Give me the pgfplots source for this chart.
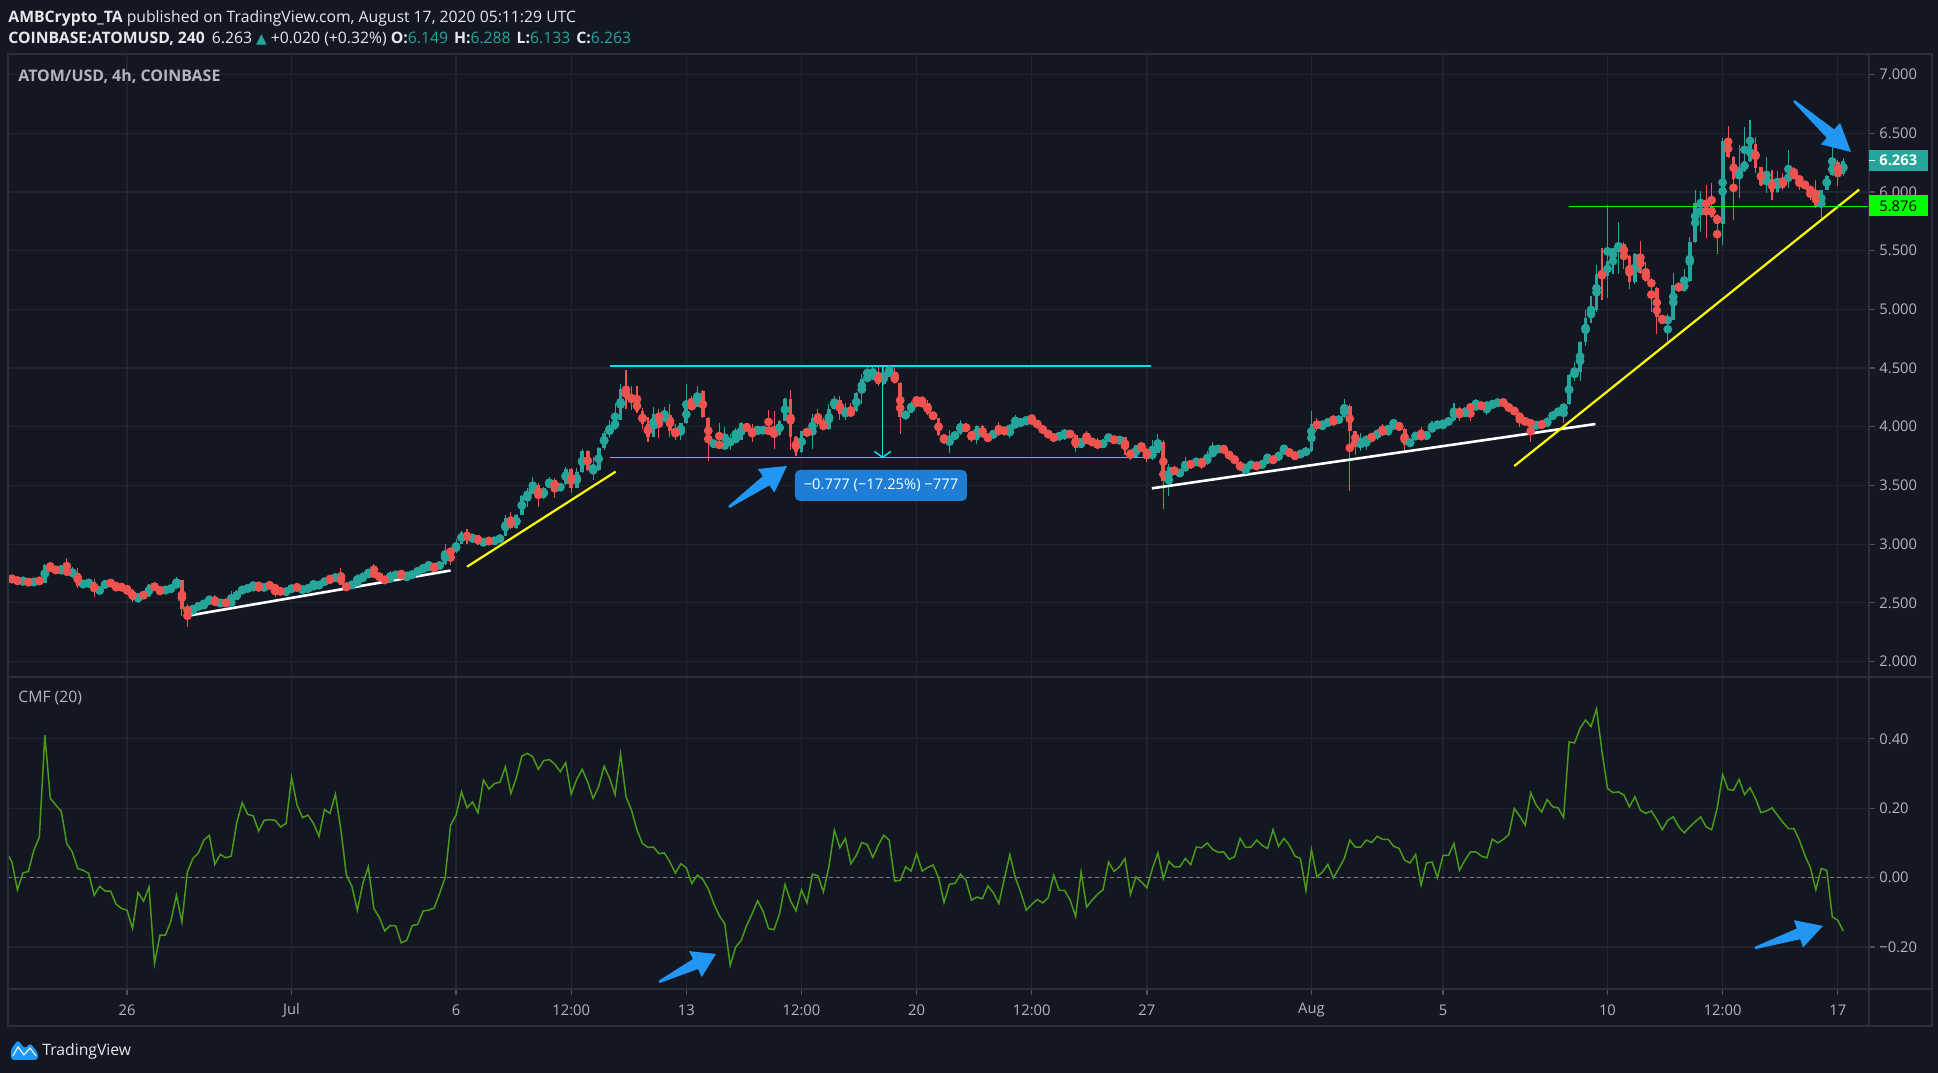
\documentclass[border=0pt]{standalone}
\usepackage{pgfplots}
\pgfplotsset{compat=1.18}
\usepackage{pgfplotstable}
\usepackage{fontspec}
\setmainfont{Open Sans}
\newfontfamily\dejavu{DejaVu Sans}
\usetikzlibrary{calc}

\definecolor{bg}{HTML}{131722}
\definecolor{gridc}{HTML}{20242F}
\definecolor{border}{HTML}{2A2E39}
\definecolor{tickc}{HTML}{4A4F5C}
\definecolor{lab}{HTML}{B2B5BE}
\definecolor{hdr}{HTML}{E6E8EE}
\definecolor{tvup}{HTML}{26A69A}
\definecolor{tvdown}{HTML}{EF5350}
\definecolor{cmfc}{HTML}{4A9A1A}
\definecolor{cyanl}{HTML}{00E5E5}
\definecolor{yel}{HTML}{FFFF00}
\definecolor{limec}{HTML}{00FF00}
\definecolor{arrowb}{HTML}{2196F3}
\definecolor{boxb}{HTML}{1E7ED6}
\definecolor{zeroc}{HTML}{787B86}

\newcommand\hfont{\fontsize{7.9}{9}\selectfont}
\newcommand\tfont{\fontsize{7.4}{9}\selectfont}

\pgfplotstableread{
k o h l c
-1 2.647 2.715 2.640 2.712
0 2.712 2.725 2.685 2.690
1 2.700 2.710 2.670 2.675
2 2.685 2.700 2.665 2.690
3 2.700 2.710 2.640 2.655
4 2.655 2.705 2.650 2.700
5 2.700 2.705 2.665 2.675
6 2.670 2.830 2.665 2.825
7 2.810 2.840 2.780 2.785
8 2.790 2.800 2.760 2.770
9 2.770 2.805 2.765 2.785
10 2.775 2.880 2.745 2.755
11 2.755 2.805 2.710 2.757
12 2.755 2.800 2.630 2.647
13 2.647 2.680 2.640 2.672
14 2.665 2.685 2.645 2.675
15 2.680 2.700 2.550 2.590
16 2.590 2.630 2.580 2.625
17 2.625 2.695 2.620 2.690
18 2.690 2.695 2.640 2.647
19 2.650 2.660 2.605 2.635
20 2.647 2.655 2.610 2.620
21 2.620 2.647 2.585 2.590
22 2.605 2.620 2.510 2.520
23 2.520 2.580 2.500 2.576
24 2.576 2.600 2.530 2.554
25 2.554 2.660 2.550 2.655
26 2.655 2.660 2.615 2.620
27 2.620 2.625 2.575 2.596
28 2.600 2.625 2.590 2.620
29 2.610 2.640 2.600 2.633
30 2.630 2.720 2.625 2.684
31 2.690 2.695 2.390 2.446
32 2.446 2.486 2.294 2.430
33 2.430 2.470 2.400 2.463
34 2.460 2.490 2.450 2.477
35 2.477 2.510 2.450 2.505
36 2.505 2.555 2.480 2.547
37 2.547 2.570 2.470 2.477
38 2.480 2.525 2.470 2.520
39 2.520 2.525 2.470 2.480
40 2.480 2.600 2.475 2.525
41 2.525 2.605 2.520 2.600
42 2.600 2.625 2.590 2.620
43 2.605 2.645 2.600 2.640
44 2.620 2.680 2.615 2.647
45 2.647 2.680 2.610 2.615
46 2.615 2.655 2.610 2.647
47 2.655 2.665 2.635 2.640
48 2.645 2.650 2.550 2.605
49 2.605 2.610 2.585 2.590
50 2.593 2.605 2.585 2.597
51 2.590 2.660 2.580 2.652
52 2.655 2.665 2.600 2.605
53 2.605 2.625 2.600 2.620
54 2.605 2.645 2.600 2.640
55 2.635 2.685 2.630 2.647
56 2.635 2.672 2.630 2.667
57 2.660 2.705 2.655 2.700
58 2.700 2.735 2.670 2.693
59 2.690 2.745 2.685 2.740
60 2.740 2.800 2.650 2.652
61 2.652 2.660 2.610 2.627
62 2.638 2.675 2.630 2.667
63 2.660 2.745 2.655 2.690
64 2.680 2.760 2.675 2.755
65 2.752 2.780 2.710 2.757
66 2.755 2.830 2.735 2.740
67 2.745 2.750 2.695 2.700
68 2.705 2.710 2.680 2.685
69 2.685 2.770 2.680 2.730
70 2.730 2.750 2.725 2.745
71 2.745 2.770 2.720 2.725
72 2.710 2.755 2.705 2.730
73 2.720 2.765 2.715 2.760
74 2.752 2.790 2.745 2.785
75 2.785 2.810 2.780 2.795
76 2.785 2.860 2.780 2.825
77 2.810 2.830 2.765 2.800
78 2.800 2.840 2.795 2.835
79 2.830 3.000 2.825 2.940
80 2.940 2.950 2.820 2.930
81 2.935 3.040 2.920 3.005
82 3.005 3.110 3.000 3.105
83 3.100 3.130 3.000 3.040
84 3.040 3.075 3.020 3.065
85 3.075 3.080 2.990 3.000
86 3.000 3.045 2.990 3.030
87 3.030 3.050 3.005 3.020
88 3.020 3.045 3.010 3.035
89 3.025 3.080 3.010 3.070
90 3.070 3.250 3.065 3.220
91 3.220 3.270 3.130 3.140
92 3.140 3.255 3.130 3.250
93 3.250 3.415 3.245 3.410
94 3.410 3.477 3.320 3.430
95 3.430 3.570 3.425 3.505
96 3.505 3.520 3.320 3.390
97 3.390 3.485 3.385 3.480
98 3.480 3.570 3.475 3.550
99 3.550 3.560 3.390 3.460
100 3.460 3.515 3.455 3.510
101 3.510 3.660 3.505 3.640
102 3.640 3.645 3.434 3.480
103 3.480 3.650 3.475 3.610
104 3.610 3.810 3.605 3.790
105 3.790 3.800 3.620 3.630
106 3.625 3.740 3.550 3.632
107 3.630 3.830 3.625 3.820
108 3.820 3.960 3.800 3.950
109 3.950 4.055 3.905 3.980
110 3.980 4.200 3.970 4.060
111 4.060 4.360 4.055 4.320
112 4.310 4.480 4.150 4.250
113 4.250 4.350 4.140 4.225
114 4.225 4.350 4.120 4.130
115 4.130 4.160 3.980 4.020
116 4.020 4.080 3.870 3.915
117 3.915 4.170 3.910 4.105
118 4.120 4.150 3.900 4.050
119 4.050 4.170 4.040 4.100
120 4.100 4.190 3.910 3.960
121 3.960 4.020 3.890 3.930
122 3.930 4.030 3.890 4.030
123 4.030 4.360 4.020 4.180
124 4.180 4.260 4.160 4.170
125 4.170 4.350 4.165 4.290
126 4.300 4.310 4.070 4.080
127 4.070 4.080 3.710 3.860
128 3.850 3.890 3.820 3.860
129 3.870 4.030 3.810 3.820
130 3.820 4.000 3.815 3.860
131 3.850 3.940 3.800 3.890
132 3.890 3.990 3.885 3.900
133 3.890 4.040 3.885 4.030
134 4.030 4.035 3.955 3.960
135 3.970 4.020 3.870 3.940
136 3.960 4.005 3.940 3.970
137 3.960 3.990 3.955 3.980
138 3.980 4.140 3.940 3.950
139 3.950 4.130 3.810 3.930
140 3.930 4.060 3.925 4.050
141 4.050 4.245 4.045 4.240
142 4.240 4.310 3.800 3.910
143 3.910 3.920 3.750 3.785
144 3.785 3.965 3.780 3.960
145 3.960 3.970 3.930 3.950
146 3.940 4.110 3.810 4.070
147 4.080 4.150 4.010 4.040
148 4.035 4.070 3.970 3.980
149 3.980 4.190 3.975 4.150
150 4.150 4.265 4.145 4.230
151 4.230 4.265 4.060 4.110
152 4.110 4.200 4.060 4.120
153 4.125 4.200 4.080 4.115
154 4.130 4.295 4.125 4.290
155 4.290 4.445 4.190 4.410
156 4.410 4.510 4.405 4.420
157 4.420 4.510 4.415 4.450
158 4.450 4.510 4.350 4.360
159 4.360 4.510 4.355 4.460
160 4.455 4.510 4.450 4.460
161 4.450 4.510 4.360 4.370
162 4.370 4.380 3.940 4.080
163 4.070 4.140 4.060 4.130
164 4.120 4.220 4.115 4.200
165 4.210 4.260 4.190 4.200
166 4.210 4.260 4.180 4.190
167 4.200 4.230 4.100 4.110
168 4.120 4.125 4.060 4.070
169 4.070 4.075 3.920 3.930
170 3.930 3.935 3.850 3.870
171 3.870 3.970 3.775 3.910
172 3.910 3.950 3.900 3.940
173 3.935 4.060 3.930 4.030
174 4.020 4.030 3.955 3.960
175 3.960 3.965 3.870 3.890
176 3.890 4.015 3.850 4.010
177 4.010 4.015 3.900 3.910
178 3.915 3.930 3.880 3.900
179 3.900 3.975 3.895 3.970
180 3.970 4.040 3.920 3.960
181 3.970 4.010 3.920 3.960
182 3.960 4.010 3.900 4.005
183 4.005 4.100 4.000 4.035
184 4.035 4.050 4.020 4.040
185 4.040 4.075 4.035 4.055
186 4.055 4.100 4.040 4.048
187 4.048 4.055 3.990 3.995
188 3.995 4.000 3.950 3.960
189 3.960 3.965 3.910 3.915
190 3.915 3.920 3.895 3.900
191 3.900 3.945 3.890 3.940
192 3.940 3.965 3.890 3.945
193 3.945 3.950 3.925 3.930
194 3.930 3.935 3.785 3.820
195 3.820 3.905 3.815 3.900
196 3.900 3.960 3.870 3.875
197 3.880 3.885 3.855 3.860
198 3.875 3.900 3.810 3.820
199 3.820 3.895 3.815 3.890
200 3.890 3.930 3.885 3.920
201 3.920 3.925 3.850 3.860
202 3.860 3.920 3.855 3.910
203 3.910 3.915 3.760 3.800
204 3.800 3.805 3.720 3.740
205 3.745 3.845 3.740 3.840
206 3.840 3.870 3.795 3.800
207 3.810 3.815 3.700 3.740
208 3.740 3.885 3.720 3.780
209 3.780 3.940 3.775 3.870
210 3.870 3.890 3.300 3.535
211 3.535 3.680 3.410 3.655
212 3.650 3.660 3.590 3.600
213 3.587 3.630 3.580 3.626
214 3.620 3.740 3.610 3.690
215 3.690 3.700 3.660 3.670
216 3.675 3.730 3.670 3.725
217 3.725 3.730 3.640 3.670
218 3.680 3.790 3.675 3.755
219 3.750 3.870 3.745 3.800
220 3.800 3.830 3.790 3.820
221 3.820 3.840 3.780 3.790
222 3.790 3.795 3.720 3.730
223 3.740 3.745 3.690 3.700
224 3.700 3.705 3.620 3.630
225 3.630 3.680 3.580 3.670
226 3.665 3.690 3.660 3.685
227 3.685 3.690 3.640 3.650
228 3.650 3.715 3.640 3.710
229 3.710 3.765 3.705 3.727
230 3.730 3.735 3.700 3.710
231 3.710 3.790 3.705 3.785
232 3.785 3.845 3.780 3.810
233 3.800 3.805 3.750 3.760
234 3.760 3.765 3.740 3.745
235 3.745 3.795 3.740 3.790
236 3.780 3.800 3.775 3.795
237 3.790 4.135 3.785 4.020
238 4.020 4.070 3.960 4.015
239 4.015 4.030 3.985 4.020
240 4.015 4.065 4.010 4.055
241 4.055 4.100 4.020 4.035
242 4.035 4.090 4.030 4.085
243 4.080 4.240 4.075 4.175
244 4.175 4.190 3.450 3.960
245 3.960 3.965 3.760 3.850
246 3.850 3.950 3.790 3.855
247 3.850 3.930 3.800 3.925
248 3.925 3.930 3.880 3.900
249 3.900 3.980 3.890 3.970
250 3.970 4.020 3.930 3.950
251 3.960 4.005 3.920 4.000
252 4.000 4.065 3.995 4.020
253 4.020 4.040 3.970 3.980
254 3.980 3.985 3.800 3.840
255 3.840 3.895 3.830 3.890
256 3.890 3.955 3.885 3.950
257 3.950 4.000 3.880 3.890
258 3.890 3.965 3.885 3.960
259 3.960 4.045 3.955 4.010
260 4.010 4.030 4.005 4.020
261 4.020 4.040 3.990 4.030
262 4.030 4.065 4.025 4.060
263 4.055 4.205 4.050 4.160
264 4.160 4.165 4.050 4.085
265 4.085 4.170 4.080 4.160
266 4.170 4.175 4.050 4.160
267 4.155 4.240 4.150 4.190
268 4.185 4.200 4.160 4.170
269 4.170 4.200 4.100 4.190
270 4.180 4.210 4.175 4.195
271 4.180 4.235 4.175 4.227
272 4.227 4.245 4.170 4.180
273 4.180 4.185 4.140 4.150
274 4.150 4.155 4.110 4.120
275 4.120 4.125 4.000 4.050
276 4.055 4.060 4.030 4.035
277 4.050 4.055 3.870 4.010
278 4.010 4.030 3.990 4.020
279 4.020 4.030 4.010 4.015
280 4.000 4.080 3.995 4.075
281 4.070 4.125 4.060 4.120
282 4.120 4.140 4.110 4.135
283 4.135 4.200 4.035 4.190
284 4.190 4.445 4.185 4.440
285 4.440 4.550 4.390 4.460
286 4.470 4.730 4.390 4.725
287 4.720 4.990 4.690 4.930
288 4.930 5.110 4.880 4.990
289 4.990 5.380 4.980 5.300
290 5.300 5.520 5.080 5.280
291 5.280 5.887 5.100 5.410
292 5.410 5.520 5.300 5.520
293 5.515 5.740 5.300 5.560
294 5.560 5.570 5.340 5.450
295 5.450 5.460 5.170 5.230
296 5.230 5.480 5.220 5.475
297 5.475 5.580 5.300 5.310
298 5.320 5.400 5.230 5.240
299 5.245 5.270 4.980 5.200
300 5.180 5.190 4.790 4.935
301 4.935 4.940 4.880 4.900
302 4.900 4.960 4.700 4.915
303 4.910 5.310 4.905 5.210
304 5.220 5.230 5.150 5.155
305 5.155 5.340 5.150 5.240
306 5.240 5.620 5.235 5.570
307 5.570 6.020 5.565 5.905
308 5.900 6.010 5.660 5.910
309 5.907 6.060 5.610 5.890
310 5.878 6.080 5.780 5.790
311 5.800 5.810 5.470 5.730
312 5.730 6.460 5.550 6.430
313 6.435 6.565 6.290 6.300
314 6.300 6.310 5.760 6.110
315 6.110 6.400 5.950 6.175
316 6.180 6.550 6.170 6.265
317 6.260 6.615 6.255 6.415
318 6.410 6.470 6.160 6.205
319 6.210 6.215 6.050 6.060
320 6.080 6.300 5.990 6.105
321 6.110 6.190 5.930 6.000
322 6.000 6.175 5.995 6.120
323 6.120 6.160 6.020 6.030
324 6.085 6.360 6.030 6.160
325 6.160 6.210 6.125 6.130
326 6.130 6.135 6.020 6.085
327 6.090 6.095 6.025 6.030
328 6.030 6.035 5.935 6.005
329 6.005 6.105 5.860 5.870
330 5.870 6.020 5.780 6.020
331 6.020 6.145 6.015 6.140
332 6.140 6.385 6.135 6.245
333 6.255 6.270 6.050 6.150
334 6.149 6.288 6.133 6.263
}\candles

\pgfplotstableread{
k v
-1 0.074
0 0.045
1 -0.035
2 0.013
3 0.018
4 0.079
5 0.117
6 0.41
7 0.228
8 0.209
9 0.191
10 0.098
11 0.074
12 0.026
13 0.021
14 0.012
15 -0.051
16 -0.025
17 -0.039
18 -0.039
19 -0.077
20 -0.089
21 -0.094
22 -0.147
23 -0.043
24 -0.068
25 -0.027
26 -0.248
27 -0.166
28 -0.166
29 -0.125
30 -0.051
31 -0.128
32 0.016
33 0.055
34 0.071
35 0.108
36 0.122
37 0.038
38 0.067
39 0.057
40 0.062
41 0.158
42 0.216
43 0.182
44 0.178
45 0.134
46 0.165
47 0.167
48 0.165
49 0.146
50 0.156
51 0.288
52 0.209
53 0.173
54 0.18
55 0.156
56 0.119
57 0.196
58 0.185
59 0.24
60 0.137
61 0.007
62 -0.025
63 -0.094
64 -0.017
65 0.031
66 -0.089
67 -0.115
68 -0.154
69 -0.138
70 -0.139
71 -0.188
72 -0.181
73 -0.138
74 -0.135
75 -0.096
76 -0.094
77 -0.088
78 -0.046
79 0.0
80 0.151
81 0.18
82 0.247
83 0.201
84 0.218
85 0.187
86 0.281
87 0.255
88 0.271
89 0.275
90 0.319
91 0.242
92 0.288
93 0.35
94 0.358
95 0.348
96 0.312
97 0.337
98 0.34
99 0.327
100 0.305
101 0.331
102 0.24
103 0.283
104 0.312
105 0.276
106 0.228
107 0.262
108 0.321
109 0.286
110 0.239
111 0.356
112 0.233
113 0.194
114 0.137
115 0.098
116 0.087
117 0.088
118 0.069
119 0.071
120 0.045
121 0.013
122 0.040
123 0.028
124 -0.017
125 0.007
126 -0.005
127 -0.032
128 -0.075
129 -0.109
130 -0.133
131 -0.253
132 -0.2
133 -0.181
134 -0.138
135 -0.104
136 -0.067
137 -0.097
138 -0.147
139 -0.15
140 -0.104
141 -0.02
142 -0.067
143 -0.096
144 -0.035
145 -0.073
146 0.01
147 0.005
148 -0.041
149 0.031
150 0.137
151 0.086
152 0.113
153 0.04
154 0.064
155 0.101
156 0.095
157 0.058
158 0.093
159 0.122
160 0.108
161 -0.01
162 -0.008
163 0.031
164 0.019
165 0.069
166 0.019
167 0.029
168 0.036
169 0.0
170 -0.072
171 -0.019
172 -0.017
173 0.01
174 -0.008
175 -0.065
176 -0.056
177 -0.061
178 -0.024
179 -0.044
180 -0.075
181 -0.003
182 0.066
183 0.0
184 -0.043
185 -0.094
186 -0.077
187 -0.063
188 -0.073
189 -0.058
190 0.007
191 -0.037
192 -0.037
193 -0.065
194 -0.112
195 0.016
196 -0.085
197 -0.065
198 -0.048
199 -0.035
200 0.045
201 0.018
202 0.031
203 0.055
204 -0.048
205 0.002
206 -0.013
207 -0.029
208 0.026
209 0.071
210 -0.003
211 0.047
212 0.031
213 0.031
214 0.055
215 0.037
216 0.088
217 0.086
218 0.1
219 0.081
220 0.073
221 0.074
222 0.053
223 0.06
224 0.113
225 0.087
226 0.088
227 0.108
228 0.093
229 0.084
230 0.138
231 0.09
232 0.113
233 0.093
234 0.062
235 0.055
236 -0.037
237 0.081
238 0.002
239 0.016
240 0.038
241 -0.001
242 0.026
243 0.055
244 0.108
245 0.088
246 0.088
247 0.108
248 0.101
249 0.119
250 0.11
251 0.11
252 0.09
253 0.084
254 0.05
255 0.042
256 0.067
257 -0.022
258 0.042
259 0.045
260 0.0
261 0.064
262 0.064
263 0.098
264 0.021
265 0.05
266 0.074
267 0.074
268 0.062
269 0.057
270 0.111
271 0.1
272 0.11
273 0.124
274 0.199
275 0.177
276 0.151
277 0.244
278 0.209
279 0.189
280 0.225
281 0.204
282 0.201
283 0.173
284 0.391
285 0.388
286 0.43
287 0.454
288 0.435
289 0.486
290 0.363
291 0.257
292 0.245
293 0.247
294 0.238
295 0.204
296 0.233
297 0.194
298 0.185
299 0.192
300 0.167
301 0.138
302 0.165
303 0.175
304 0.146
305 0.129
306 0.146
307 0.161
308 0.175
309 0.146
310 0.138
311 0.199
312 0.297
313 0.254
314 0.252
315 0.283
316 0.239
317 0.259
318 0.228
319 0.187
320 0.192
321 0.201
322 0.18
323 0.159
324 0.141
325 0.141
326 0.108
327 0.064
328 0.029
329 -0.035
330 0.026
331 0.021
332 -0.113
333 -0.123
334 -0.154
}\cmfdata

\pgfplotsset{
  tvaxis/.style={
    scale only axis, width=930.5bp,
    xmin=-0.72, xmax=338.7,
    axis line style={draw=border, line width=0.6bp},
    grid=major, major grid style={draw=gridc, line width=0.6bp},
    xtick={21,51,81,102,123,144,165,186,207,237,261,291,312,333},
    ytick pos=right, yticklabel pos=right,
    tick align=outside, major tick length=3bp,
    tick style={draw=tickc, line width=0.6bp},
    yticklabel style={font=\tfont, text=lab, anchor=west, inner sep=0pt, xshift=2bp},
    clip=true,
  },
  cwick/.style={color=#1, only marks, mark=none,
    error bars/.cd, y dir=both, y explicit, error mark=none,
    error bar style={color=#1, line width=0.55bp}},
  cbody/.style={color=#1, only marks, mark=none,
    error bars/.cd, y dir=both, y explicit, error mark=none,
    error bar style={color=#1, line width=1.9bp}},
  upc/.style={restrict expr to domain={\thisrow{c}-\thisrow{o}}{0:100}},
  dnc/.style={restrict expr to domain={\thisrow{c}-\thisrow{o}}{-100:-0.00001}},
}

\newcommand{\tvarrow}[4]{%
  \coordinate (T) at (#1,#2);
  \coordinate (H) at (#3,#4);
  \coordinate (B) at ($(T)!0.64!(H)$);
  \fill[arrowb] ($(T)!0.6bp!90:(H)$) -- ($(B)!2.8bp!90:(H)$) -- ($(B)!7.2bp!90:(H)$) -- (H)
     -- ($(B)!7.2bp!-90:(H)$) -- ($(B)!2.8bp!-90:(H)$) -- ($(T)!0.6bp!-90:(H)$) -- cycle;
}

\begin{document}
\begin{tikzpicture}
\useasboundingbox (0,0) rectangle (969bp,536.5bp);
\fill[bg] (0,0) rectangle (969bp,536.5bp);

% ---------------- price pane ----------------
\begin{axis}[tvaxis,
  at={(4bp,198bp)}, anchor=south west, height=311.5bp,
  ymin=1.868, ymax=7.175,
  xticklabel style={opacity=0}, xtick style={draw=none},
  ytick={2,2.5,3,3.5,4,4.5,5,5.5,6,6.5,7},
  yticklabels={2.000,2.500,3.000,3.500,4.000,4.500,5.000,5.500,6.000,6.500,7.000},
]
% candles: wicks
\addplot[upc, cwick=tvup]
  table[x=k, y expr={(\thisrow{h}+\thisrow{l})/2}, y error expr={(\thisrow{h}-\thisrow{l})/2}] {\candles};
\addplot[dnc, cwick=tvdown]
  table[x=k, y expr={(\thisrow{h}+\thisrow{l})/2}, y error expr={(\thisrow{h}-\thisrow{l})/2}] {\candles};
% candles: bodies
\addplot[upc, cbody=tvup]
  table[x=k, y expr={(\thisrow{o}+\thisrow{c})/2}, y error expr={max(abs(\thisrow{c}-\thisrow{o})/2,0.003)}] {\candles};
\addplot[dnc, cbody=tvdown]
  table[x=k, y expr={(\thisrow{o}+\thisrow{c})/2}, y error expr={max(abs(\thisrow{c}-\thisrow{o})/2,0.003)}] {\candles};

% range box lines
\addplot[cyanl, line width=0.75bp, mark=none] coordinates {(109.1,4.516) (207.8,4.516)};
\addplot[cyanl, line width=0.75bp, mark=none] coordinates {(109.1,3.739) (207.8,3.739)};
\addplot[cyanl, line width=0.75bp, mark=none] coordinates {(158.8,4.516) (158.8,3.739)};
\addplot[cyanl, line width=0.75bp, mark=none] coordinates {(157.3,3.79) (158.8,3.739) (160.3,3.79)};
% trend lines
\addplot[white, line width=1.3bp, mark=none] coordinates {(32.1,2.39) (80.0,2.775)};
\addplot[yel, line width=1.1bp, mark=none] coordinates {(83.0,2.807) (110.1,3.617)};
\addplot[white, line width=1.3bp, mark=none] coordinates {(207.9,3.475) (288.8,4.023)};
\addplot[yel, line width=1.1bp, mark=none] coordinates {(274.0,3.665) (336.9,6.02)};
% level
\addplot[limec, line width=0.6bp, mark=none] coordinates {(284.0,5.876) (338.7,5.876)};
\end{axis}

% ---------------- CMF pane ----------------
\begin{axis}[tvaxis,
  at={(4bp,42bp)}, anchor=south west, height=156bp,
  ymin=-0.321, ymax=0.578,
  xtick pos=left, xticklabel pos=left,
  xticklabels={26,Jul,6,12:00,13,12:00,20,12:00,27,Aug,5,10,12:00,17},
  xticklabel style={font=\tfont, text=lab, anchor=center, inner sep=0pt, yshift=-7.5bp},
  ytick={-0.2,0,0.2,0.4},
  yticklabels={−0.20,0.00,0.20,0.40},
]
\draw[zeroc, line width=0.6bp, dash pattern=on 2bp off 1.6bp] (axis cs:-0.72,0) -- (axis cs:338.7,0);
\addplot[cmfc, line width=0.75bp, mark=none] table[x=k, y=v] {\cmfdata};
\end{axis}

% ---------------- overlay in pixel coordinates ----------------
\begin{scope}[x=0.5bp, y=-0.5bp, shift={(0,536.5bp)}]
  % frame and separators
  \draw[border, line width=0.6bp] (8,54) rectangle (1932,1026);
  \draw[border, line width=0.6bp] (8,677) -- (1932,677);
  \draw[border, line width=0.6bp] (8,989) -- (1932,989);
  \draw[border, line width=0.6bp] (1869,54) -- (1869,1026);

  % header
  \node[anchor=base west, inner sep=0pt, text=hdr, font=\hfont] at (8,22.4)
    {\textbf{AMBCrypto\_TA} published on TradingView.com, August 17, 2020 05:11:29 UTC};
  \node[anchor=base west, inner sep=0pt, text=hdr, font=\hfont] at (8,44)
    {\textbf{COINBASE:ATOMUSD, 240}\hspace{3.5bp}6.263 {\color{tvup}\dejavu\fontsize{7}{7}\selectfont ▲} +0.020 (+0.32\%) \textbf{O:}{\color{tvup}6.149}\hspace{3bp}\textbf{H:}{\color{tvup}6.288}\hspace{3bp}\textbf{L:}{\color{tvup}6.133}\hspace{3bp}\textbf{C:}{\color{tvup}6.263}};
  \node[anchor=base west, inner sep=0pt, text=lab, font=\fontsize{8}{9}\selectfont\bfseries] at (18,81.5) {ATOM/USD, 4h, COINBASE};
  \node[anchor=base west, inner sep=0pt, text=lab, font=\hfont] at (18,703) {CMF (20)};

  % price labels on the scale
  \fill[tvup] (1869,150) rectangle (1928,171);
  \draw[white, line width=0.6bp] (1869,160.5) -- (1875,160.5);
  \node[anchor=west, inner sep=0pt, text=white, font=\tfont\bfseries] at (1879,160.5) {6.263};
  \fill[limec] (1869,195.5) rectangle (1928,216);
  \node[anchor=west, inner sep=0pt, text=black, font=\tfont] at (1879,205.8) {5.876};

  % measure label
  \fill[boxb, rounded corners=2.5bp] (795,470) rectangle (967,501);
  \node[text=white, font=\tfont, inner sep=0pt] at (881,485.5) {−0.777 (−17.25\%) −777};

  % arrows
  \tvarrow{729}{507}{787}{466}
  \tvarrow{1794}{101}{1851}{152}
  \tvarrow{659}{982}{716}{954}
  \tvarrow{1755}{948}{1823}{926}

  % TradingView logo
  \fill[arrowb, rounded corners=1.5bp] (11,1060) -- (11,1049) -- (18,1040) -- (25,1049) -- (30,1043) -- (38,1053) -- (38,1060) -- cycle;
  \draw[white, line width=0.5bp] (13,1056) -- (18,1047) -- (24,1055) -- (30,1048) -- (36,1056);
  \node[anchor=base west, inner sep=0pt, text=hdr, font=\hfont] at (42,1055.5) {TradingView};
\end{scope}
\end{tikzpicture}
\end{document}
